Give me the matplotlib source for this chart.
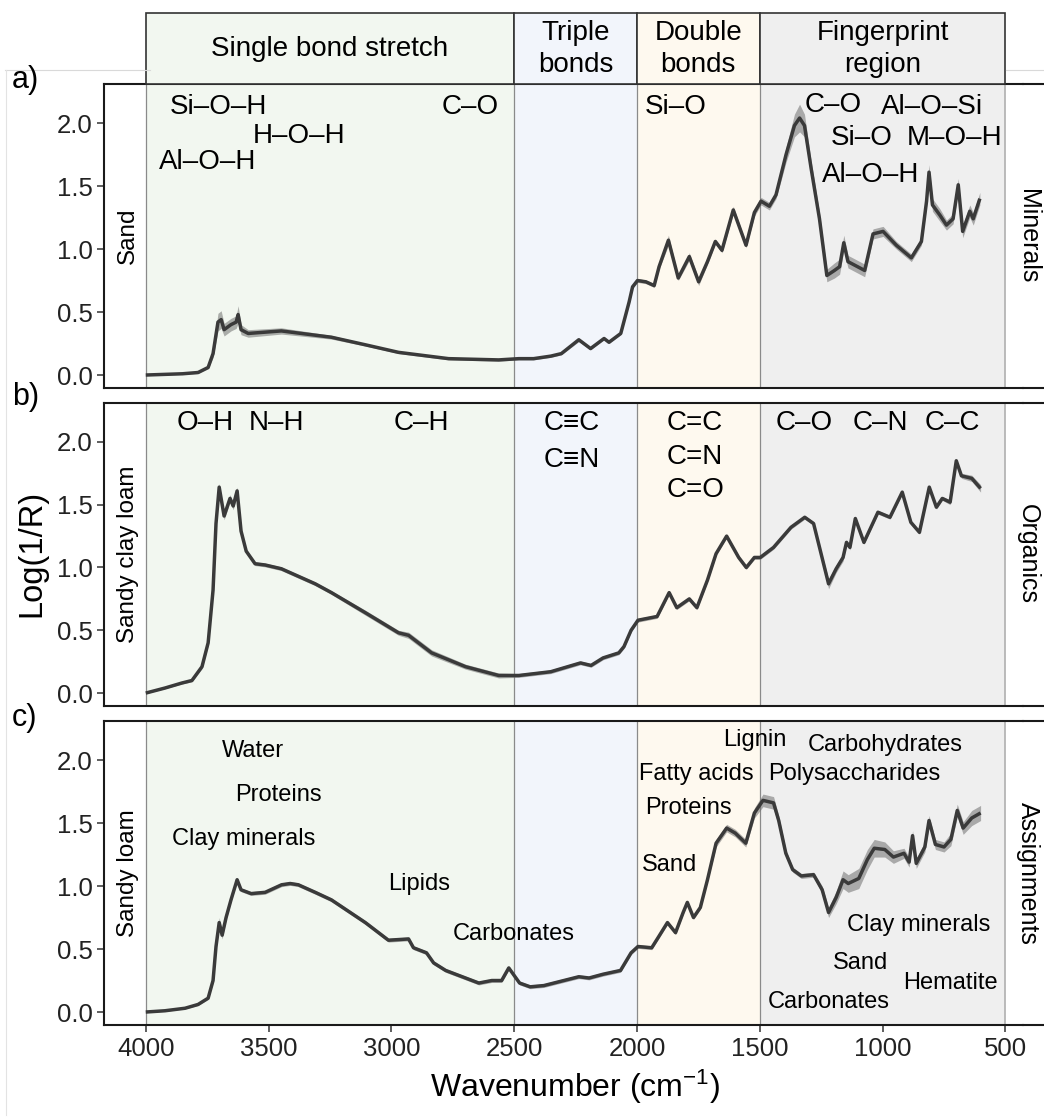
import numpy as np
import matplotlib
matplotlib.use("Agg")
import matplotlib.pyplot as plt
from matplotlib.patches import Rectangle
from matplotlib.lines import Line2D

plt.rcParams['font.family'] = ['Liberation Sans', 'DejaVu Sans']
plt.rcParams['mathtext.fontset'] = 'custom'
plt.rcParams['mathtext.rm'] = 'Liberation Sans'
plt.rcParams['mathtext.it'] = 'Liberation Sans:italic'

# ---------------- spectral regions ----------------
region_names = ["Single bond stretch", "Triple\nbonds", "Double\nbonds", "Fingerprint\nregion"]
region_edges = [4000, 2500, 2000, 1500, 500]
region_colors = ["#F2F7F0", "#F2F5FB", "#FEF9EF", "#EFEFEF"]

# ---------------- mean spectra (wavenumber, log(1/R), sd) ----------------
sand_wn = [4000, 3850, 3787, 3746, 3726, 3706, 3693, 3681, 3653, 3632,
           3624, 3612, 3583, 3448, 3244, 3106, 2971, 2767, 2563, 2481,
           2421, 2351, 2308, 2237, 2189, 2134, 2114, 2066, 2032, 2018,
           1998, 1964, 1930, 1910, 1872, 1832, 1787, 1749, 1713, 1681,
           1654, 1608, 1556, 1522, 1495, 1461, 1434, 1393, 1359, 1338,
           1318, 1291, 1257, 1227, 1196, 1175, 1158, 1141, 1073, 1039,
           998, 944, 883, 842, 821, 811, 797, 767, 740, 713,
           692, 674, 645, 631, 604]
sand_abs = [0.00, 0.01, 0.02, 0.06, 0.17, 0.42, 0.44, 0.36, 0.40, 0.42,
            0.48, 0.36, 0.33, 0.35, 0.30, 0.24, 0.18, 0.13, 0.12, 0.13,
            0.13, 0.15, 0.17, 0.28, 0.21, 0.29, 0.26, 0.33, 0.58, 0.70,
            0.75, 0.74, 0.71, 0.86, 1.07, 0.77, 0.94, 0.74, 0.90, 1.06,
            0.99, 1.31, 1.03, 1.29, 1.38, 1.34, 1.43, 1.75, 1.98, 2.04,
            1.98, 1.64, 1.24, 0.79, 0.83, 0.86, 1.05, 0.90, 0.83, 1.12,
            1.14, 1.03, 0.93, 1.06, 1.38, 1.61, 1.35, 1.27, 1.19, 1.24,
            1.51, 1.14, 1.30, 1.24, 1.40]
sand_sd = [0.005, 0.005, 0.008, 0.01,
           0.03, 0.07, 0.07, 0.05, 0.05, 0.05, 0.07, 0.04, 0.03,
           0.025, 0.015, 0.01, 0.01, 0.01, 0.01, 0.01,
           0.01, 0.01, 0.01, 0.015, 0.01, 0.01, 0.01, 0.01, 0.015, 0.015,
           0.015, 0.015, 0.015, 0.02, 0.04, 0.02, 0.03, 0.03, 0.02, 0.02,
           0.02, 0.03, 0.02, 0.03, 0.03, 0.03, 0.03, 0.06, 0.09, 0.11,
           0.09, 0.06, 0.05, 0.05, 0.06, 0.06, 0.06, 0.05, 0.05, 0.04,
           0.04, 0.03, 0.03, 0.03, 0.04, 0.06, 0.05, 0.05, 0.04, 0.04,
           0.05, 0.05, 0.05, 0.05, 0.05]

scl_wn = [4000, 3922, 3853, 3812, 3771, 3746, 3726, 3714, 3701, 3681,
          3657, 3644, 3628, 3612, 3591, 3555, 3514, 3448, 3310, 3244,
          3106, 2971, 2930, 2836, 2698, 2563, 2481, 2351, 2230, 2187,
          2138, 2074, 2053, 2024, 1996, 1918, 1869, 1838, 1787, 1756,
          1713, 1678, 1635, 1586, 1555, 1522, 1498, 1444, 1373, 1317,
          1281, 1253, 1220, 1189, 1161, 1147, 1133, 1111, 1076, 1019,
          970, 920, 885, 850, 810, 781, 757, 725, 700, 679,
          637, 601]
scl_abs = [0.00, 0.04, 0.08, 0.10, 0.21, 0.40, 0.82, 1.35, 1.64, 1.41,
           1.55, 1.49, 1.61, 1.29, 1.13, 1.03, 1.02, 0.99, 0.87, 0.80,
           0.64, 0.48, 0.46, 0.32, 0.21, 0.14, 0.14, 0.17, 0.24, 0.22,
           0.28, 0.32, 0.37, 0.50, 0.58, 0.61, 0.80, 0.68, 0.75, 0.68,
           0.90, 1.11, 1.25, 1.08, 1.00, 1.08, 1.08, 1.16, 1.32, 1.40,
           1.35, 1.13, 0.87, 0.99, 1.08, 1.20, 1.16, 1.39, 1.20, 1.44,
           1.40, 1.60, 1.36, 1.28, 1.64, 1.48, 1.55, 1.52, 1.85, 1.73,
           1.71, 1.63]
scl_sd = [0.005, 0.005, 0.008, 0.01, 0.015, 0.02,
          0.03, 0.03, 0.03, 0.03, 0.03, 0.03, 0.03, 0.03,
          0.015, 0.015, 0.015, 0.015, 0.015, 0.015, 0.02, 0.02, 0.025, 0.025,
          0.02, 0.02, 0.015,
          0.015, 0.015, 0.015, 0.015, 0.015, 0.015, 0.015, 0.015, 0.015, 0.015,
          0.015, 0.015, 0.015, 0.015, 0.015, 0.015, 0.015, 0.015, 0.015, 0.015,
          0.015,
          0.015, 0.015, 0.015, 0.02, 0.04, 0.03, 0.03, 0.02, 0.02, 0.02,
          0.015, 0.015, 0.015, 0.015, 0.015, 0.015, 0.015, 0.015, 0.015, 0.02,
          0.02, 0.02, 0.025, 0.03]

sl_wn = [4000, 3922, 3840, 3787, 3746, 3726, 3714, 3701, 3689, 3673,
         3653, 3628, 3612, 3571, 3514, 3447, 3412, 3379, 3310, 3244,
         3106, 3012, 2930, 2910, 2857, 2828, 2779, 2644, 2591, 2551,
         2522, 2478, 2435, 2379, 2237, 2195, 2138, 2067, 2024, 1996,
         1940, 1911, 1876, 1843, 1812, 1795, 1770, 1742, 1713, 1678,
         1635, 1600, 1557, 1522, 1487, 1444, 1423, 1394, 1366, 1331,
         1281, 1246, 1220, 1189, 1161, 1140, 1097, 1062, 1034, 991,
         956, 913, 892, 878, 863, 828, 811, 785, 750, 722,
         696, 672, 637, 601]
sl_abs = [0.00, 0.01, 0.03, 0.06, 0.11, 0.25, 0.52, 0.71, 0.61, 0.75,
          0.89, 1.05, 0.97, 0.94, 0.95, 1.01, 1.02, 1.01, 0.95, 0.89,
          0.71, 0.57, 0.58, 0.51, 0.47, 0.39, 0.33, 0.23, 0.25, 0.25,
          0.35, 0.23, 0.20, 0.21, 0.28, 0.27, 0.30, 0.33, 0.47, 0.52,
          0.51, 0.60, 0.71, 0.63, 0.79, 0.87, 0.75, 0.83, 1.05, 1.34,
          1.46, 1.42, 1.34, 1.58, 1.68, 1.66, 1.52, 1.26, 1.13, 1.08,
          1.09, 0.97, 0.79, 0.91, 1.05, 1.02, 1.06, 1.21, 1.30, 1.29,
          1.23, 1.26, 1.19, 1.40, 1.18, 1.31, 1.52, 1.33, 1.31, 1.37,
          1.60, 1.46, 1.54, 1.58]
sl_sd = [0.005, 0.005, 0.005, 0.008, 0.01, 0.015, 0.03, 0.04, 0.03, 0.02,
         0.015, 0.015, 0.015, 0.015, 0.015, 0.015, 0.015, 0.015, 0.015, 0.015,
         0.015, 0.015, 0.015, 0.015, 0.015, 0.015, 0.015, 0.015, 0.015, 0.015,
         0.015, 0.015, 0.015, 0.015,
         0.015, 0.015, 0.015, 0.015, 0.015, 0.015, 0.015, 0.015, 0.015, 0.015,
         0.015, 0.015, 0.015, 0.015, 0.015,
         0.03, 0.03, 0.03, 0.03, 0.04, 0.05, 0.05, 0.04, 0.03, 0.02, 0.02,
         0.02, 0.03, 0.04, 0.05, 0.07, 0.07, 0.08, 0.08, 0.07, 0.06,
         0.05, 0.04, 0.04, 0.04, 0.04, 0.04, 0.04, 0.04, 0.04, 0.05,
         0.05, 0.05, 0.06, 0.06]

soil_names = ["Sand", "Sandy clay loam", "Sandy loam"]
facet_names = ["Minerals", "Organics", "Assignments"]
panel_letters = ["a)", "b)", "c)"]

# ---------------- annotations (label, wavenumber, log(1/R)) ----------------
minerals_text = ["Si\u2013O\u2013H", "H\u2013O\u2013H", "Al\u2013O\u2013H", "C\u2013O", "Si\u2013O",
                 "C\u2013O", "Al\u2013O\u2013Si", "Si\u2013O", "M\u2013O\u2013H", "Al\u2013O\u2013H"]
minerals_x = [3706, 3376, 3748, 2678, 1844, 1200, 800, 1087, 708, 1047]
minerals_y = [2.13, 1.90, 1.69, 2.13, 2.13, 2.14, 2.13, 1.88, 1.88, 1.59]

organics_text = ["O\u2013H", "N\u2013H", "C\u2013H", "C\u2261C", "C\u2261N",
                 "C=C", "C=N", "C=O", "C\u2013O", "C\u2013N", "C\u2013C"]
organics_x = [3757, 3468, 2879, 2264, 2264, 1763, 1763, 1763, 1320, 1010, 716]
organics_y = [2.15, 2.15, 2.15, 2.15, 1.86, 2.15, 1.88, 1.62, 2.15, 2.15, 2.15]

assign_text = ["Water", "Proteins", "Clay minerals", "Lipids", "Carbonates",
               "Lignin", "Carbohydrates", "Fatty acids", "Polysaccharides",
               "Proteins", "Sand", "Clay minerals", "Sand", "Hematite", "Carbonates"]
assign_x = [3565, 3459, 3600, 2886, 2501, 1522, 991, 1758, 1117,
            1789, 1866, 854, 1089, 725, 1221]
assign_y = [2.07, 1.72, 1.37, 1.02, 0.62, 2.16, 2.12, 1.89, 1.89,
            1.62, 1.17, 0.69, 0.39, 0.23, 0.08]

y_ticks = [0.0, 0.5, 1.0, 1.5, 2.0]
x_ticks = [4000, 3500, 3000, 2500, 2000, 1500, 1000, 500]

# ---------------- layout ----------------
W, H = 1044, 1120
fig = plt.figure(figsize=(W / 100, H / 100), dpi=100)


def fx(px):
    return px / W


def fy(py):
    return 1 - py / H


XL, XR = 104, 1022.6
XLIM = (4170, 430)
YLIM = (-0.103, 2.31)
tops = [84, 403, 721]
bottoms = [388, 706, 1025]
INK = "#1a1a1a"

spectra = [(sand_wn, sand_abs, sand_sd), (scl_wn, scl_abs, scl_sd), (sl_wn, sl_abs, sl_sd)]
notes = [(minerals_text, minerals_x, minerals_y, 20),
         (organics_text, organics_x, organics_y, 20),
         (assign_text, assign_x, assign_y, 17)]

# faint frame lines of the composite
fig.add_artist(Line2D([fx(5), fx(150)], [fy(70), fy(70)], color="#d9d9d9", lw=0.8))
fig.add_artist(Line2D([fx(1006), 1.0], [fy(70), fy(70)], color="#d9d9d9", lw=0.8))
fig.add_artist(Line2D([fx(6), fx(6)], [fy(70), fy(1115)], color="#e3e3e3", lw=0.8))

for i in range(3):
    top, bot = tops[i], bottoms[i]
    ax = fig.add_axes([fx(XL), fy(bot), fx(XR) - fx(XL), (bot - top) / H])
    ax.set_xlim(*XLIM)
    ax.set_ylim(*YLIM)
    for k in range(4):
        ax.axvspan(region_edges[k], region_edges[k + 1], color=region_colors[k], lw=0, zorder=0)
    for k, e in enumerate(region_edges):
        ax.axvline(e, color="#8a8a8a" if k < 4 else "#b5b5b5", lw=0.9 if k < 4 else 1.3, zorder=1)

    wn = np.array(spectra[i][0], dtype=float)
    ab = np.array(spectra[i][1], dtype=float)
    sd = np.array(spectra[i][2], dtype=float)
    ax.fill_between(wn, ab - sd, ab + sd, color="#707070", alpha=0.55, lw=0, zorder=2)
    ax.plot(wn, ab, color="#3a3a3a", lw=2.5, solid_joinstyle="round",
            solid_capstyle="butt", zorder=3)

    txt, xs, ys, fs = notes[i]
    for t, x, y in zip(txt, xs, ys):
        ax.text(x, y, t, fontsize=fs, ha="center", va="center", color="black", zorder=4)

    ax.text(0.026, 0.5, soil_names[i], transform=ax.transAxes, rotation=90,
            fontsize=17.5, ha="center", va="center", color="black")

    for s in ["left", "top", "bottom"]:
        ax.spines[s].set_color(INK)
        ax.spines[s].set_linewidth(1.5)
    ax.spines["right"].set_visible(False)
    fig.add_artist(Line2D([fx(XR), 1.0], [fy(top), fy(top)], color=INK, lw=1.5))
    fig.add_artist(Line2D([fx(XR), 1.0], [fy(bot), fy(bot)], color=INK, lw=1.5))

    ax.set_yticks(y_ticks)
    ax.set_yticklabels([f"{v:.1f}" for v in y_ticks])
    ax.tick_params(axis="y", length=5, width=1.1, color="#333333", labelsize=18.5,
                   labelcolor="#222222", pad=3)
    if i < 2:
        ax.set_xticks([])
    else:
        ax.set_xticks(x_ticks)
        ax.set_xticklabels([str(v) for v in x_ticks])
        ax.tick_params(axis="x", length=5, width=1.1, color="#333333", labelsize=18.5,
                       labelcolor="#222222", pad=4)

    fig.text(fx(1028), fy((top + bot) / 2), facet_names[i], rotation=270,
             fontsize=18, ha="center", va="center", color="black")

# header strip with region names
axh = fig.add_axes([fx(XL), fy(84), fx(XR) - fx(XL), 71 / H])
axh.set_xlim(*XLIM)
axh.set_ylim(0, 1)
axh.axis("off")
for k in range(4):
    a, b = region_edges[k], region_edges[k + 1]
    axh.add_patch(Rectangle((a, 0), b - a, 1, facecolor=region_colors[k],
                            edgecolor="#333333", lw=1.2, clip_on=False))
    axh.text((a + b) / 2, 0.5, region_names[k], fontsize=20, ha="center",
             va="center", linespacing=1.3, color="black")

# panel letters and axis titles
for letter, py in zip(panel_letters, [80, 397, 718]):
    fig.text(fx(12), fy(py), letter, fontsize=22, ha="left", va="center")
fig.text(fx(32), fy(553), "Log(1/R)", rotation=90, fontsize=23.5, ha="center", va="center")
fig.text(fx(575), fy(1087), "Wavenumber (cm$^{\\mathregular{-1}}$)", fontsize=23,
         ha="center", va="center")

fig.savefig("out.png", dpi=100)
